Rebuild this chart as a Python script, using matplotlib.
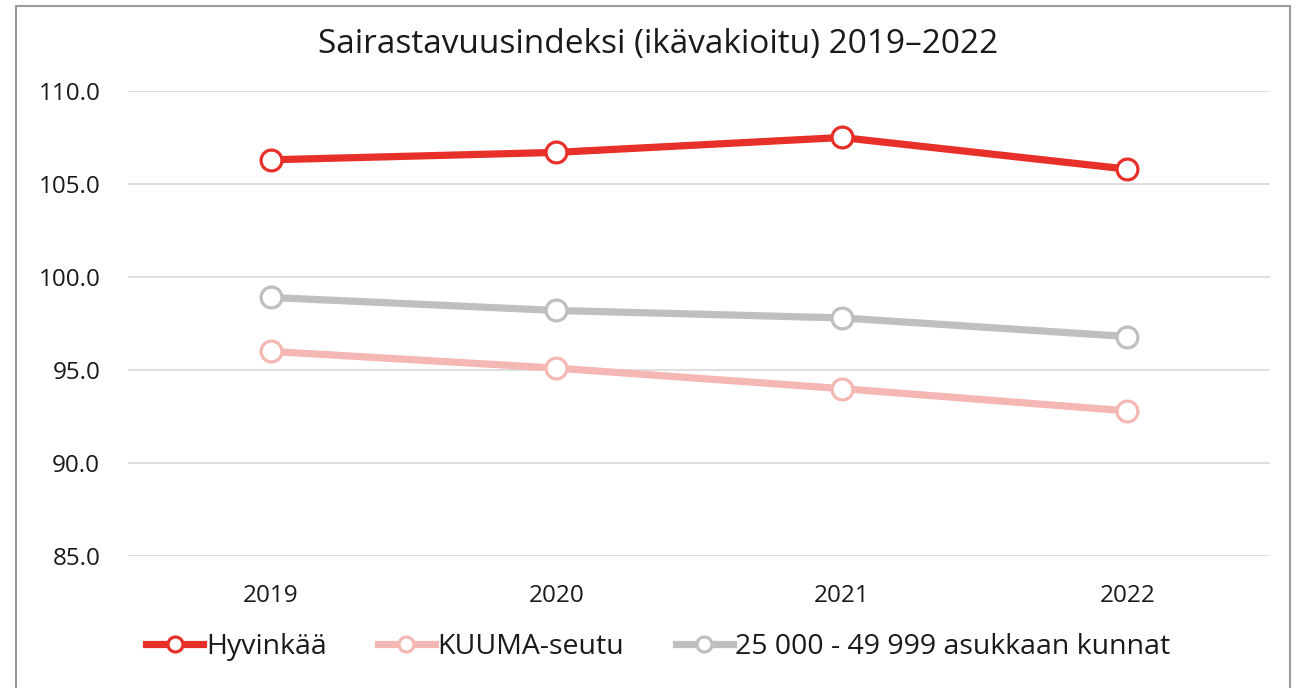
import matplotlib
matplotlib.use('Agg')
import matplotlib.pyplot as plt
from matplotlib.patches import Rectangle

plt.rcParams['font.family'] = ['Open Sans', 'DejaVu Sans']

# data
years = ['2019', '2020', '2021', '2022']
hyvinkaa = [106.3, 106.7, 107.5, 105.8]
kuuma = [96.0, 95.1, 94.0, 92.8]
kunnat = [98.9, 98.2, 97.8, 96.8]

series = [
    ('Hyvinkää', hyvinkaa, '#E8302A'),
    ('KUUMA-seutu', kuuma, '#F5B7B3'),
    ('25 000 - 49 999 asukkaan kunnat', kunnat, '#BFBFBF'),
]

fig = plt.figure(figsize=(12.96, 6.88), dpi=100)
ax = fig.add_axes([128 / 1296, 1 - 556 / 688, (1270 - 128) / 1296, (556 - 91) / 688])

# outer frame of the chart
fig.patches.append(Rectangle((16 / 1296, -0.05), (1290 - 16) / 1296, 1 - 6 / 688 + 0.05,
                             transform=fig.transFigure, fill=False,
                             edgecolor='#9A9A9A', linewidth=1.5))

x = range(len(years))
for name, vals, col in series:
    ax.plot(x, vals, color=col, linewidth=5.2, marker='o', markersize=15,
            markerfacecolor='white', markeredgecolor=col, markeredgewidth=2.3,
            label=name, zorder=3)

ax.set_xlim(-0.5, 3.5)
ax.set_ylim(85, 110)
ax.set_yticks([85, 90, 95, 100, 105, 110])
ax.set_yticklabels(['%.1f' % v for v in [85, 90, 95, 100, 105, 110]])
ax.set_xticks(list(x))
ax.set_xticklabels(years)
ax.yaxis.grid(True, color='#D9D9D9', linewidth=1.2)
ax.set_axisbelow(True)
for s in ax.spines.values():
    s.set_visible(False)
ax.tick_params(axis='both', length=0, labelsize=17.5, colors='#1A1A1A')
ax.tick_params(axis='y', pad=20)
ax.tick_params(axis='x', pad=20)

fig.text(0.508, 1 - 45 / 688, 'Sairastavuusindeksi (ikävakioitu) 2019–2022',
         ha='center', va='center', fontsize=24, color='#1A1A1A')

fig.legend(loc='center', bbox_to_anchor=(0.508, 1 - 647 / 688), ncol=3, frameon=False,
           fontsize=20.5, handlelength=2.0, handletextpad=0.1, columnspacing=1.8,
           markerscale=0.72, labelcolor='#1A1A1A')

fig.savefig('out.png', dpi=100)
